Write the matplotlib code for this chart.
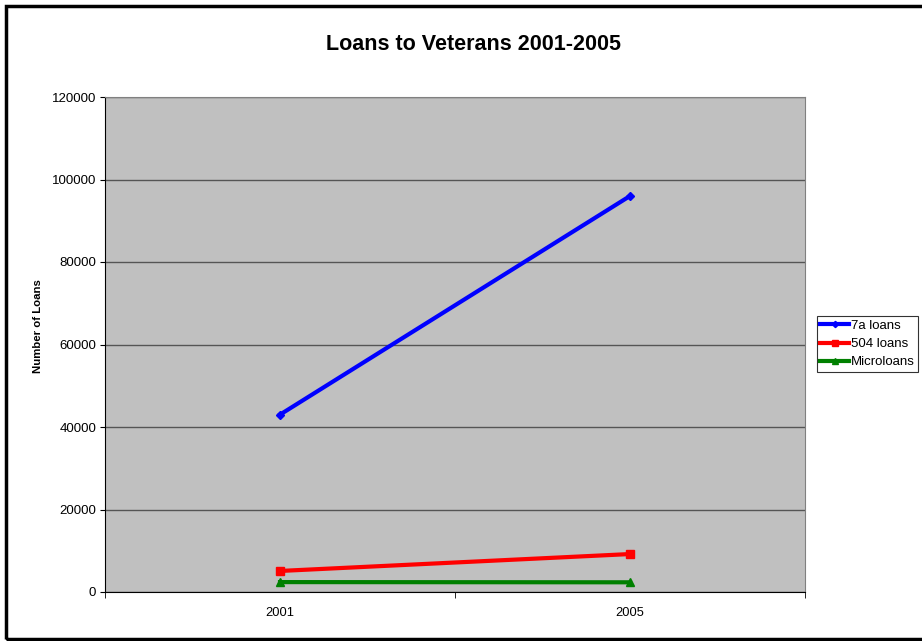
import matplotlib.pyplot as plt
from matplotlib.patches import Rectangle
from matplotlib.ticker import FixedLocator

plt.rcParams['font.family'] = ['Liberation Sans', 'DejaVu Sans']

# Data
years = ['2001', '2005']
loans_7a = [43000, 96000]
loans_504 = [5100, 9200]
microloans = [2400, 2350]

fig = plt.figure(figsize=(9.22, 6.41), dpi=100)
ax = fig.add_axes([105 / 922, 1 - 592 / 641, 700 / 922, 495 / 641])
ax.set_facecolor('#c0c0c0')

x = range(len(years))
ax.plot(x, loans_7a, color='#0000ff', lw=3, marker='D', ms=4, label='7a loans')
ax.plot(x, loans_504, color='#ff0000', lw=3, marker='s', ms=6, label='504 loans')
ax.plot(x, microloans, color='#008000', lw=3, marker='^', ms=6, label='Microloans')

ax.set_xlim(-0.5, 1.5)
ax.set_ylim(0, 120000)
ax.set_yticks(range(0, 120001, 20000))
ax.set_xticks(list(x))
ax.set_xticklabels(years)
ax.xaxis.set_minor_locator(FixedLocator([-0.5, 0.5, 1.5]))
ax.tick_params(axis='x', which='major', length=0, pad=11, labelsize=9.3)
ax.tick_params(axis='x', which='minor', length=4.3, direction='out')
ax.tick_params(axis='y', length=3.8, direction='out', labelsize=9.5, pad=2.5)
ax.grid(axis='y', color='#555555', lw=1)
ax.set_axisbelow(True)
for side in ['top', 'right']:
    ax.spines[side].set_color('#808080')
for side in ['left', 'bottom']:
    ax.spines[side].set_color('black')

fig.text(38 / 922, 1 - 326 / 641, 'Number of Loans', rotation=90,
         ha='center', va='center', fontsize=8.2, fontweight='bold')
fig.text(473 / 922, 1 - 44 / 641, 'Loans to Veterans 2001-2005',
         ha='center', va='center', fontsize=15.5, fontweight='bold')

leg = ax.legend(loc='center left', bbox_to_anchor=(817 / 922, 1 - 344 / 641),
                bbox_transform=fig.transFigure, fontsize=9.5, frameon=True,
                fancybox=False, edgecolor='black', borderpad=0.25,
                handlelength=2.2, handletextpad=0.15, labelspacing=0.45,
                borderaxespad=0, markerscale=0.8)
leg.get_frame().set_linewidth(0.8)

# Outer chart border
fig.patches.append(Rectangle((6 / 922, 2 / 641), 1.0, 1 - 8 / 641,
                             transform=fig.transFigure, fill=False,
                             edgecolor='black', lw=2.5))

fig.savefig('out.png', dpi=100)
